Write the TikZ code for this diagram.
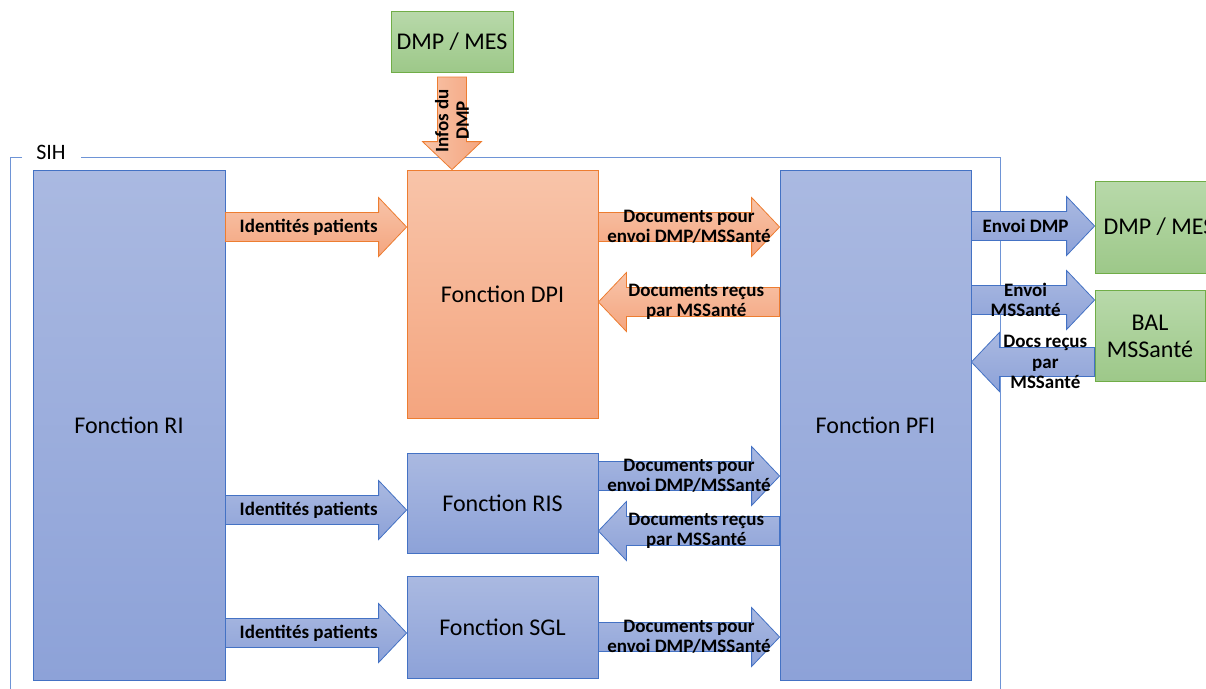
\documentclass[tikz,border=0pt]{standalone}
\usepackage{fontspec}
\setmainfont{Carlito}
\usetikzlibrary{calc}
\definecolor{bluetop}{HTML}{AAB9E1}
\definecolor{bluebot}{HTML}{8DA2D8}
\definecolor{blueline}{HTML}{4472C4}
\definecolor{orangetop}{HTML}{F8C4A9}
\definecolor{orangebot}{HTML}{F4A57F}
\definecolor{orangeline}{HTML}{ED7D31}
\definecolor{greentop}{HTML}{B8D9AA}
\definecolor{greenbot}{HTML}{9DC889}
\definecolor{greenline}{HTML}{70AD47}
\definecolor{frameline}{HTML}{6E94D6}
\newcommand\bahs{14.5pt}
\newcommand\bahh{29.5pt}
\newcommand\bahl{28pt}
% #1 label options, #2 arrow style, #3 start, #4 end, #5 name, #6 label position, #7 label
\newcommand\barrow[7][]{%
  \coordinate (#5-a) at (#3);
  \coordinate (#5-b) at (#4);
  \coordinate (#5-h) at ($(#5-b)!\bahl!(#5-a)$);
  \path[#2] ($(#5-a)!\bahs!90:(#5-b)$) -- ($(#5-h)!\bahs!90:(#5-b)$)
    -- ($(#5-h)!\bahh!90:(#5-b)$) -- (#5-b) -- ($(#5-h)!\bahh!-90:(#5-b)$)
    -- ($(#5-h)!\bahs!-90:(#5-b)$) -- ($(#5-a)!\bahs!-90:(#5-b)$) -- cycle;
  \node[lab,#1] (#5) at ($(#5-a)!#6!(#5-b)$) {#7};
}
\tikzset{
  box/.style={draw, line width=0.8pt, inner sep=0pt, align=center,
    font=\fontsize{24}{27}\selectfont},
  bluebox/.style={box, draw=blueline, top color=bluetop, bottom color=bluebot},
  orangebox/.style={box, draw=orangeline, top color=orangetop, bottom color=orangebot},
  greenbox/.style={box, draw=greenline, top color=greentop, bottom color=greenbot},
  bluearrow/.style={draw=blueline, line width=0.8pt, top color=bluetop, bottom color=bluebot},
  orangearrow/.style={draw=orangeline, line width=0.8pt, top color=orangetop, bottom color=orangebot},
  lab/.style={inner sep=0pt, align=center, font=\fontsize{19}{20.5}\selectfont\bfseries},
  frame/.style={draw=frameline, line width=0.8pt},
}
\begin{document}
\begin{tikzpicture}[x=1pt, y=-1pt]
\useasboundingbox (0,0) rectangle (1206,688);
\clip (0,0) rectangle (1206,688);
% SIH frame
\draw[frame] (22,157) -| (10,700);
\draw[frame] (81,157) -| (1000,700);
\node[inner sep=0pt, font=\fontsize{22}{24}\selectfont] (sih) at (51,152) {SIH};
% boxes
\node[greenbox, minimum width=122pt, minimum height=61pt] (dmptop) at (452,41.5) {DMP / MES};
\node[bluebox, minimum width=192pt, minimum height=510pt] (ri) at (129,425) {Fonction RI};
\node[orangebox, minimum width=191pt, minimum height=248pt] (dpi) at (502.5,294) {Fonction DPI};
\node[bluebox, minimum width=191pt, minimum height=510pt] (pfi) at (875.5,425) {Fonction PFI};
\node[bluebox, minimum width=191pt, minimum height=100pt] (ris) at (502.5,503) {Fonction RIS};
\node[bluebox, minimum width=191pt, minimum height=102pt] (sgl) at (502.5,627) {Fonction SGL};
\node[greenbox, minimum width=128pt, minimum height=92pt] (dmpright) at (1159,227) {DMP / MES};
\node[greenbox, minimum width=110pt, minimum height=91pt] (bal) at (1150,336) {BAL\\MSSanté};
% arrows
\barrow[rotate=90]{orangearrow, left color=orangetop, right color=orangebot}{dmptop.south |- 0,77}{dpi.north -| dmptop.south}{infos}{0.47}{Infos du\\DMP}
\barrow{orangearrow}{ri.east |- 0,227}{dpi.west |- 0,227}{id1}{0.46}{Identités patients}
\barrow{orangearrow}{dpi.east |- 0,227}{pfi.west |- 0,227}{pour1}{0.5}{Documents pour\\envoi DMP/MSSanté}
\barrow{orangearrow}{pfi.west |- 0,302}{dpi.east |- 0,302}{recus1}{0.46}{Documents reçus\\par MSSanté}
\barrow{bluearrow}{ri.east |- 0,510}{ris.west |- 0,510}{id2}{0.46}{Identités patients}
\barrow{bluearrow}{ri.east |- 0,633}{sgl.west |- 0,633}{id3}{0.46}{Identités patients}
\barrow{bluearrow}{ris.east |- 0,476}{pfi.west |- 0,476}{pour2}{0.5}{Documents pour\\envoi DMP/MSSanté}
\barrow{bluearrow}{pfi.west |- 0,531}{ris.east |- 0,531}{recus2}{0.46}{Documents reçus\\par MSSanté}
\barrow{bluearrow}{sgl.east |- 0,637}{pfi.west |- 0,637}{pour3}{0.5}{Documents pour\\envoi DMP/MSSanté}
\barrow{bluearrow}{pfi.east |- 0,226}{dmpright.west |- 0,226}{envdmp}{0.44}{Envoi DMP}
\barrow{bluearrow}{pfi.east |- 0,300}{bal.west |- 0,300}{envmss}{0.44}{Envoi\\MSSanté}
\barrow{bluearrow}{bal.west |- 0,362}{pfi.east |- 0,362}{docsrecus}{0.40}{Docs reçus\\par\\MSSanté}
\end{tikzpicture}
\end{document}
